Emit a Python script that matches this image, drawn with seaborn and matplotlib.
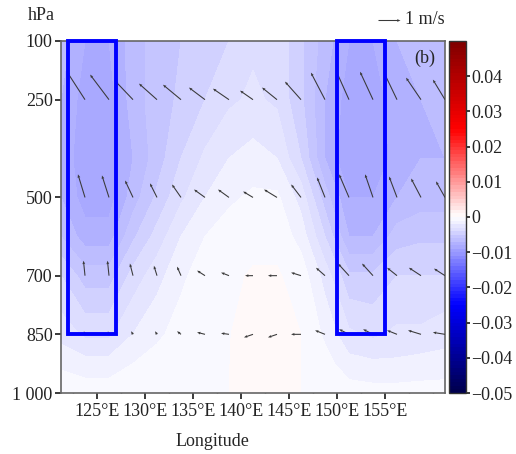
import numpy as np
import matplotlib
matplotlib.use("Agg")
import matplotlib.pyplot as plt
import seaborn as sns
from matplotlib.patches import Rectangle
from matplotlib.ticker import FuncFormatter, MultipleLocator

# longitude grid (deg E) and pressure levels (hPa) of the shaded field
lons = [121.25, 123.75, 126.25, 128.75, 131.25, 133.75, 136.25, 138.75, 141.25,
        143.75, 146.25, 148.75, 151.25, 153.75, 156.25, 158.75, 161.25]
levs = [100, 250, 400, 500, 600, 700, 850, 925, 1000]

# shaded anomaly, in 1e-3 units, one list per level
f100 = [-6.5, -8, -8, -6.5, -5.5, -5, -4.5, -4, -3.2, -3.2, -4.8, -6.5, -8, -8, -7, -6.5, -6.5]
f250 = [-7, -8.5, -8.5, -6.5, -5.5, -4.8, -4, -3.2, -2.8, -3.2, -4.8, -7, -8.5, -8.5, -7.5, -7, -6.5]
f400 = [-7, -9, -8.5, -7, -5.5, -4, -2.8, -2, -1.6, -2, -4, -7, -9, -9, -7.5, -7, -7]
f500 = [-7, -8.5, -8.5, -6.5, -4.8, -3.2, -2, -1.2, -0.8, -0.8, -2.4, -5.5, -8, -8, -7, -6.5, -6.5]
f600 = [-6, -7.5, -7.5, -5.2, -3.6, -2, -1, -0.5, -0.3, -0.3, -1.4, -4, -7, -7, -5.5, -5.2, -5.2]
f700 = [-4, -5.5, -5.5, -3.6, -2.4, -1.2, -0.5, -0.2, 0.1, 0.1, -0.4, -2.4, -4.8, -4.8, -4, -4, -4]
f850 = [-2.4, -3.2, -3.2, -2, -1.2, -0.6, -0.3, -0.05, 0.5, 0.5, 0.0, -1.2, -2.8, -3.2, -2.8, -2.8, -2.4]
f925 = [-1.2, -1.6, -1.6, -1, -0.6, -0.3, -0.15, -0.02, 0.45, 0.45, 0.0, -0.6, -1.6, -1.8, -1.8, -1.6, -1.6]
f1000 = [-0.3, -0.4, -0.4, -0.3, -0.2, -0.1, -0.05, 0.0, 0.4, 0.4, 0.0, -0.2, -0.5, -0.6, -0.6, -0.6, -0.5]

# wind vectors (u, scaled w) at the arrow levels
wind_lons = lons[1:]
wind_levs = [250, 500, 700, 850]
u250 = [-0.82, -0.86, -0.82, -0.82, -0.82, -0.73, -0.73, -0.59, -0.68, -0.73, -0.64, -0.59, -0.59, -0.59, -0.68, -0.55]
w250 = [1.27, 1.14, 0.86, 0.73, 0.68, 0.55, 0.5, 0.41, 0.55, 0.82, 1.23, 1.32, 1.27, 1.23, 1.0, 0.91]
u500 = [-0.32, -0.32, -0.36, -0.32, -0.41, -0.5, -0.5, -0.45, -0.59, -0.45, -0.36, -0.45, -0.36, -0.36, -0.45, -0.41]
w500 = [1.05, 1.0, 0.77, 0.64, 0.59, 0.36, 0.36, 0.27, 0.36, 0.59, 0.91, 1.05, 1.05, 0.95, 0.86, 0.73]
u700 = [-0.07, -0.07, -0.14, -0.14, -0.18, -0.36, -0.36, -0.36, -0.41, -0.45, -0.41, -0.5, -0.5, -0.45, -0.55, -0.5]
w700 = [0.68, 0.68, 0.55, 0.45, 0.41, 0.23, 0.14, 0.0, 0.0, 0.14, 0.36, 0.55, 0.55, 0.36, 0.36, 0.32]
u850 = [-0.05, -0.05, -0.09, -0.09, -0.18, -0.36, -0.36, -0.41, -0.41, -0.45, -0.45, -0.45, -0.45, -0.45, -0.59, -0.55]
w850 = [0.14, 0.14, 0.14, 0.14, 0.14, 0.09, 0.05, -0.14, -0.14, 0.0, 0.18, 0.23, 0.23, 0.18, 0.18, 0.09]

# key regions (lon range), shown from 100 to 850 hPa
boxes = [(122, 127), (150, 155)]
xticks = [125, 130, 135, 140, 145, 150, 155]
yticks = [100, 250, 500, 700, 850, 1000]
ytick_labels = ["100", "250", "500", "700", "850", "1 000"]
cbar_ticks = [-0.05, -0.04, -0.03, -0.02, -0.01, 0, 0.01, 0.02, 0.03, 0.04]

sns.set_theme(style="ticks")
plt.rcParams["font.family"] = ["Liberation Serif", "DejaVu Serif"]
plt.rcParams["font.size"] = 13

field = np.array([f100, f250, f400, f500, f600, f700, f850, f925, f1000]) * 1e-3
U = np.array([u250, u500, u700, u850])
W = np.array([w250, w500, w700, w850])

fig = plt.figure(figsize=(5.16, 4.54), dpi=100)
ax = fig.add_axes([61 / 516, 61 / 454, 384 / 516, 352 / 454])
cax = fig.add_axes([449 / 516, 61 / 454, 17 / 516, 352 / 454])

cmap = sns.color_palette("seismic", as_cmap=True)
cf = ax.contourf(lons, levs, field, levels=np.linspace(-0.05, 0.05, 101), cmap=cmap)

X, Y = np.meshgrid(wind_lons, wind_levs)
q = ax.quiver(X, Y, U, W, pivot="tail", scale=1 / 0.22, scale_units="inches",
              width=0.0028, headwidth=2.6, headlength=3.2, headaxislength=2.9,
              color="#3a3a3a", zorder=3)
ax.quiverkey(q, 400 / 516, 1 - 20 / 454, 1, "1 m/s", labelpos="E",
             coordinates="figure", labelsep=0.05, fontproperties={"size": 13})

for x0, x1 in boxes:
    ax.add_patch(Rectangle((x0, 100), x1 - x0, 750, fill=False,
                           edgecolor="#0000ff", lw=2.8, zorder=4, clip_on=False))

ax.set_xlim(121.25, 161.25)
ax.set_ylim(1000, 100)
ax.set_xticks(xticks)
ax.set_xticklabels([f"{v}°E" for v in xticks])
ax.xaxis.set_minor_locator(MultipleLocator(2.5))
ax.tick_params(axis="x", which="minor", direction="in", length=3, color="#555555")
ax.tick_params(axis="x", which="major", direction="out", length=4, pad=3, color="#555555")
ax.set_yticks(yticks)
ax.set_yticklabels(ytick_labels)
ax.tick_params(axis="y", direction="out", length=4, pad=2, color="#555555")
ax.tick_params(labelsize=13, colors="#222222")
for s in ax.spines.values():
    s.set_color("#666666")
    s.set_linewidth(1.2)

ax.set_xlabel("Longitude", fontsize=13)
ax.xaxis.set_label_coords(0.395, -0.115)
fig.text(41 / 516, 1 - 15 / 454, "hPa", ha="center", va="center", fontsize=13)
fig.text(425 / 516, 1 - 58 / 454, "(b)", ha="center", va="center", fontsize=13)

cb = fig.colorbar(cf, cax=cax, ticks=cbar_ticks)
cb.ax.yaxis.set_major_formatter(FuncFormatter(
    lambda v, p: "0" if abs(v) < 1e-9 else f"{v:.2f}".replace("-", "\u2212")))
cb.ax.tick_params(labelsize=13, length=3, pad=1, colors="#222222")
cb.outline.set_edgecolor("#333333")
cb.outline.set_linewidth(1)

fig.savefig("out.png", dpi=100)
